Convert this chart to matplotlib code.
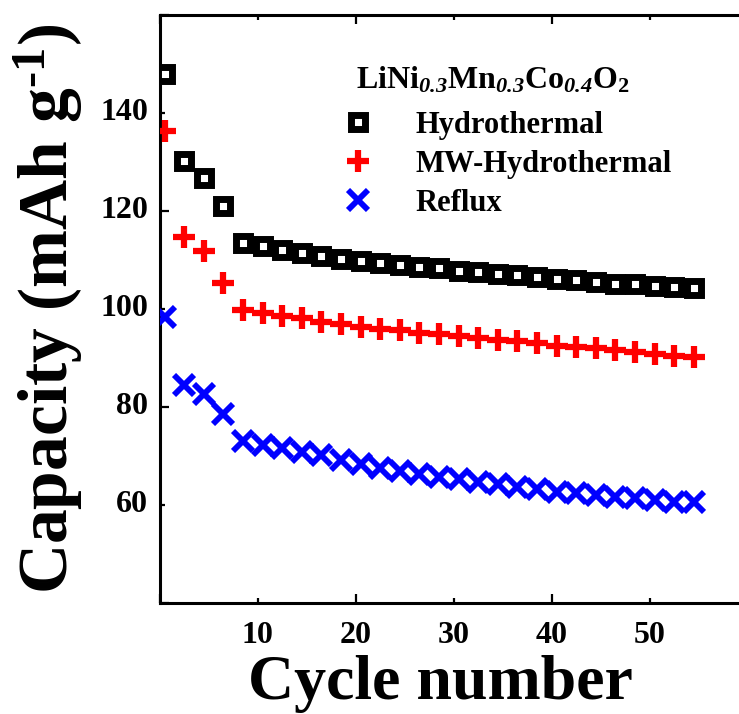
import matplotlib
matplotlib.use("Agg")
import matplotlib.pyplot as plt
from matplotlib.lines import Line2D
from matplotlib.ticker import FixedLocator

plt.rcParams["font.family"] = ["Liberation Serif", "DejaVu Serif"]
plt.rcParams["font.weight"] = "bold"
plt.rcParams["mathtext.fontset"] = "custom"
plt.rcParams["mathtext.rm"] = "Liberation Serif:bold"
plt.rcParams["mathtext.bf"] = "Liberation Serif:bold"
plt.rcParams["mathtext.it"] = "Liberation Serif:italic:bold"
plt.rcParams["mathtext.bfit"] = "Liberation Serif:italic:bold"

# Cycle positions and specific capacities (mAh/g)
cycles = [0.5, 2.5, 4.5, 6.5, 8.5, 10.5, 12.5, 14.5, 16.5, 18.5,
          20.5, 22.5, 24.5, 26.5, 28.5, 30.5, 32.5, 34.5, 36.5, 38.5,
          40.5, 42.5, 44.5, 46.5, 48.5, 50.5, 52.5, 54.5]

hydrothermal = [148.0, 130.1, 126.8, 121.0, 113.5, 112.8, 112.1, 111.4, 110.8, 110.2,
                109.7, 109.3, 109.0, 108.6, 108.3, 107.8, 107.5, 107.1, 106.9, 106.5,
                106.2, 105.9, 105.6, 105.2, 105.0, 104.7, 104.4, 104.2]

mw_hydrothermal = [136.4, 114.6, 111.9, 105.4, 99.7, 99.1, 98.6, 98.1, 97.4, 96.9,
                   96.4, 95.9, 95.7, 95.2, 94.8, 94.5, 94.0, 93.7, 93.4, 93.0,
                   92.5, 92.2, 92.0, 91.6, 91.2, 90.8, 90.5, 90.3]

reflux = [98.3, 84.5, 82.7, 78.6, 73.1, 72.2, 71.6, 70.9, 70.1, 69.2,
          68.3, 67.5, 67.0, 66.3, 65.8, 65.2, 64.6, 64.2, 63.6, 63.2,
          62.7, 62.4, 62.0, 61.7, 61.4, 61.0, 60.7, 60.6]

series_names = ["Hydrothermal", "MW-Hydrothermal", "Reflux"]
x_tick_values = [10, 20, 30, 40, 50]
x_tick_labels = ["10", "20", "30", "40", "50"]
y_tick_values = [60, 80, 100, 120, 140]
y_tick_labels = ["60", "80", "100", "120", "140"]

fig = plt.figure(figsize=(7.39, 7.14), dpi=100)
ax = fig.add_axes([0.2161, 0.1555, 0.7957, 0.8235])

sq = dict(marker="s", ms=10.5, mew=5.0, mfc="white", mec="black", ls="none")
pl = dict(marker="+", ms=16.5, mew=4.5, color="#ff0000", ls="none")
xx = dict(marker="x", ms=14, mew=4.2, color="#0000ff", ls="none")

ax.plot(cycles, hydrothermal, **sq, zorder=3)
ax.plot(cycles, mw_hydrothermal, **pl, zorder=3)
ax.plot(cycles, reflux, **xx, zorder=3)

ax.set_xlim(0, 60)
ax.set_ylim(40, 160)

ax.xaxis.set_major_locator(FixedLocator([0, 20, 40, 60]))
ax.xaxis.set_minor_locator(FixedLocator([10, 30, 50]))
ax.yaxis.set_major_locator(FixedLocator([40, 80, 120, 160]))
ax.yaxis.set_minor_locator(FixedLocator([60, 100, 140]))
ax.set_xticklabels([])
ax.set_yticklabels([])

# Labels shown at every 10 cycles / 20 mAh/g
for v, s in zip(x_tick_values, x_tick_labels):
    ax.text(v, -0.03, s, transform=ax.get_xaxis_transform(), ha="center", va="top",
            fontsize=23, fontweight="bold")
for v, s in zip(y_tick_values, y_tick_labels):
    ax.text(-0.02, v, s, transform=ax.get_yaxis_transform(), ha="right", va="center",
            fontsize=23, fontweight="bold")

ax.tick_params(which="major", direction="in", length=6.5, width=1.6,
               top=True, right=True)
ax.tick_params(which="minor", direction="in", length=3.5, width=1.6,
               top=True, right=True)
for sp in ax.spines.values():
    sp.set_linewidth(2.2)

ax.set_xlabel("Cycle number", fontsize=46, fontweight="bold")
ax.xaxis.set_label_coords(0.477, -0.089, transform=ax.transAxes)
ax.xaxis.label.set_va("top")
ax.set_ylabel(r"Capacity (mAh g$^{\text{-1}}$)", fontsize=50, fontweight="bold",
              labelpad=50)

# Compound name above the legend entries
fig.text(356 / 739, 1 - 80 / 714,
         r"LiNi$_{\mathbfit{0.3}}$Mn$_{\mathbfit{0.3}}$Co$_{\mathbfit{0.4}}$O$_{\mathbf{2}}$",
         fontsize=23, fontweight="bold", ha="left", va="center")

handles = [Line2D([], [], **sq), Line2D([], [], **pl), Line2D([], [], **xx)]
leg = ax.legend(handles, series_names, loc="upper left",
                bbox_to_anchor=(343 / 739, 1 - 111 / 714), bbox_transform=fig.transFigure,
                frameon=False, fontsize=22, handlelength=1.0, handletextpad=1.36,
                labelspacing=0.32, borderpad=0, borderaxespad=0)

fig.savefig("out.png", dpi=100)
